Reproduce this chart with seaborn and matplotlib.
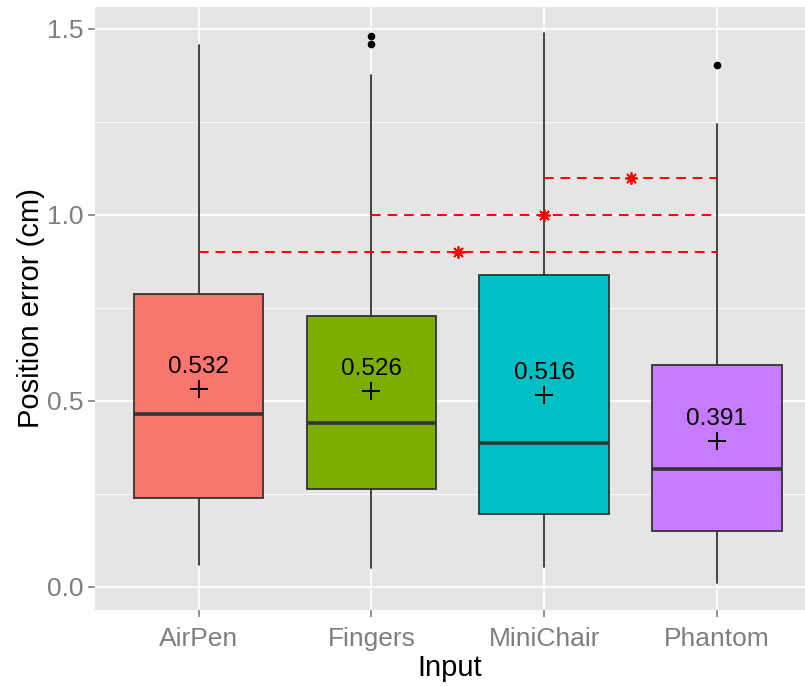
import numpy as np
import pandas as pd
import matplotlib
matplotlib.use("Agg")
import matplotlib.pyplot as plt
import seaborn as sns
from matplotlib.ticker import MultipleLocator

# ------------------ Data ------------------
inputs = ['AirPen', 'Fingers', 'MiniChair', 'Phantom']
whisker_low = [0.059, 0.051, 0.054, 0.011]
q1 = [0.240, 0.264, 0.197, 0.151]
medians = [0.465, 0.442, 0.386, 0.316]
q3 = [0.788, 0.729, 0.839, 0.596]
whisker_high = [1.457, 1.376, 1.489, 1.244]
outliers = [[], [1.458, 1.481], [], [1.403]]
means = [0.532, 0.526, 0.516, 0.391]
colors = ['#F8766D', '#7CAE00', '#00BFC4', '#C77CFF']

# significance comparisons: (from, to, y level)
sig_from = ['AirPen', 'Fingers', 'MiniChair']
sig_to = ['Phantom', 'Phantom', 'Phantom']
sig_y = [0.9, 1.0, 1.1]

# ------------------ Style (ggplot-like) ------------------
sns.set_theme(style="darkgrid", rc={
    'axes.facecolor': '#E5E5E5',
    'grid.color': 'white',
    'axes.edgecolor': 'none',
})
plt.rcParams['font.family'] = ['Liberation Sans', 'DejaVu Sans']

fig = plt.figure(figsize=(8.05, 6.87), dpi=100)
ax = fig.add_axes([0.118, 0.112, 0.882, 0.878])

pos = np.arange(len(inputs))
stats = []
for i, name in enumerate(inputs):
    stats.append({'label': name, 'whislo': whisker_low[i], 'q1': q1[i], 'med': medians[i],
                  'q3': q3[i], 'whishi': whisker_high[i], 'fliers': outliers[i]})

bp = ax.bxp(stats, positions=pos, widths=0.75, patch_artist=True, showcaps=False,
            boxprops=dict(edgecolor='#333333', linewidth=1.3),
            whiskerprops=dict(color='#333333', linewidth=1.3),
            medianprops=dict(color='#333333', linewidth=2.6),
            flierprops=dict(marker='o', markerfacecolor='black', markeredgecolor='black',
                            markersize=4.5))
for patch, c in zip(bp['boxes'], colors):
    patch.set_facecolor(c)

# means as '+' with value labels
mean_df = pd.DataFrame({'x': pos, 'mean': means})
sns.scatterplot(data=mean_df, x='x', y='mean', marker='+', s=160, color='black',
                linewidth=1.4, ax=ax, zorder=5)
for i, m in enumerate(means):
    ax.text(pos[i], m + 0.03, f'{m:.3f}', ha='center', va='bottom', fontsize=17.5, color='black')

# significance lines and stars
idx = {n: i for i, n in enumerate(inputs)}
star_x = []
for a, b, y in zip(sig_from, sig_to, sig_y):
    ax.hlines(y, idx[a], idx[b], colors='red', linestyles=(0, (5, 3.5)), linewidth=1.4, zorder=4)
    star_x.append((idx[a] + idx[b]) / 2)
star_df = pd.DataFrame({'x': star_x, 'y': sig_y})
sns.scatterplot(data=star_df, x='x', y='y', marker=(8, 2, 0), s=65, color='red',
                linewidth=1.3, ax=ax, zorder=6)

# axes
ax.set_xlim(-0.6, 3.51)
ax.set_ylim(-0.062, 1.559)
ax.set_xticks(pos)
ax.set_xticklabels(inputs)
ax.yaxis.set_major_locator(MultipleLocator(0.5))
ax.yaxis.set_minor_locator(MultipleLocator(0.25))
ax.yaxis.set_major_formatter(matplotlib.ticker.FormatStrFormatter('%.1f'))
ax.grid(which='major', color='white', linewidth=1.3)
ax.grid(which='minor', axis='y', color='white', linewidth=0.6)
ax.set_axisbelow(True)
ax.tick_params(axis='both', which='major', labelsize=19, labelcolor='#7F7F7F',
               color='#7F7F7F', length=5, width=1.2, left=True, bottom=True)
ax.tick_params(axis='x', which='major', pad=7)
ax.tick_params(axis='y', which='minor', length=0)
ax.set_xlabel('Input', fontsize=21, color='black', labelpad=2)
ax.set_ylabel('Position error (cm)', fontsize=21, color='black', labelpad=1)

fig.savefig('out.png', dpi=100)
